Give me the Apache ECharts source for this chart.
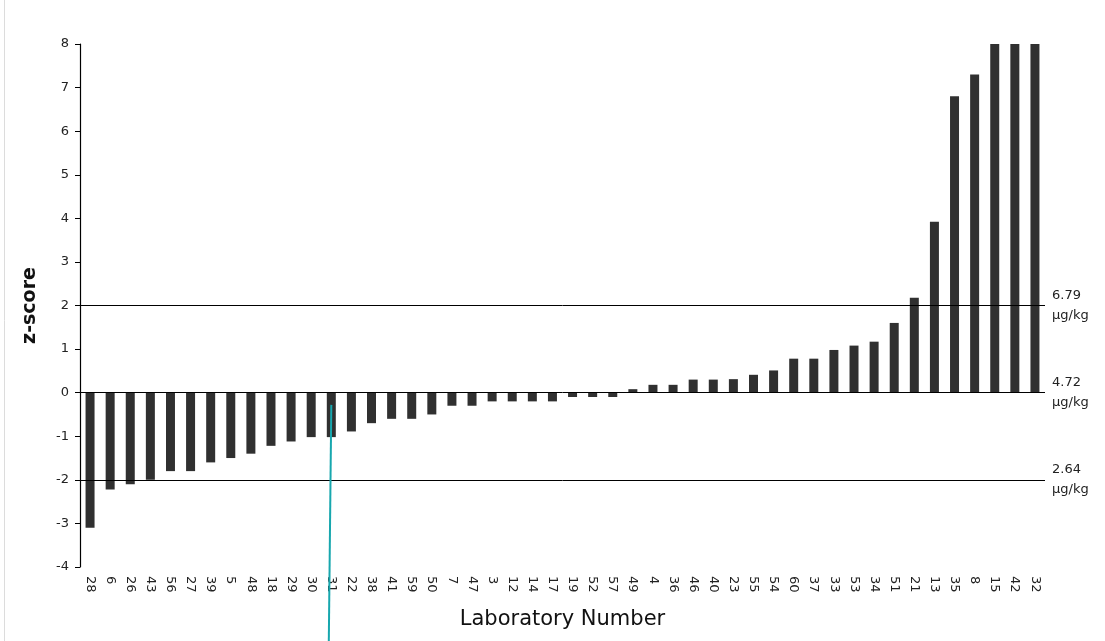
<!DOCTYPE html>
<html>
<head>
<meta charset="utf-8">
<script src="https://cdn.jsdelivr.net/npm/echarts@6/dist/echarts.min.js"></script>
<style>
  html, body { margin: 0; padding: 0; background: #fff; }
  #chart { width: 1105px; height: 641px; }
</style>
</head>
<body>
<div id="chart"></div>
<script>
// Laboratories, ordered by z-score
const labNumbers = ['28','6','26','43','56','27','39','5','48','18','29','30','31','22','38','41','59','50','7','47',
  '3','12','14','17','19','52','57','49','4','36','46','40','23','55','54','60','37','33','53','34',
  '51','21','13','35','8','15','42','32'];

// z-score per laboratory
const zScores = [-3.1,-2.22,-2.1,-2.0,-1.8,-1.8,-1.6,-1.5,-1.4,-1.22,
  -1.12,-1.02,-1.02,-0.89,-0.7,-0.6,-0.6,-0.5,-0.3,-0.3,
  -0.2,-0.2,-0.2,-0.2,-0.1,-0.1,-0.1,0.08,0.18,0.18,
  0.3,0.3,0.31,0.41,0.51,0.78,0.78,0.98,1.08,1.17,
  1.6,2.18,3.92,6.8,7.3,8,8,8];

// Reference z levels and their concentrations
const refZ = [2, 0, -2];
const refConc = ['6.79', '4.72', '2.64'];
const refUnit = 'µg/kg';

// Pointer marking one laboratory
const pointerLab = '31';
const pointerTopZ = -0.28;

const FONT = 'DejaVu Sans';

const chart = echarts.init(document.getElementById('chart'), null, { renderer: 'canvas' });

chart.setOption({
  animation: false,
  backgroundColor: '#fff',
  grid: { left: 80, right: 60, top: 44, bottom: 74, containLabel: false },
  xAxis: {
    type: 'category',
    data: labNumbers,
    name: 'Laboratory Number',
    nameLocation: 'middle',
    nameGap: 42,
    nameTextStyle: { fontFamily: FONT, fontSize: 21, color: '#111', letterSpacing: 1.2 },
    axisLine: { show: false },
    axisTick: { show: false },
    axisLabel: {
      interval: 0, rotate: -90, margin: 9,
      fontFamily: FONT, fontSize: 13, color: '#222', letterSpacing: 0.5
    },
    splitLine: { show: false }
  },
  yAxis: {
    type: 'value',
    min: -4, max: 8, interval: 1,
    name: 'z-score',
    nameLocation: 'middle',
    nameGap: 40,
    nameRotate: 90,
    nameTextStyle: { fontFamily: FONT, fontSize: 19, color: '#111', fontWeight: 'bold', letterSpacing: 1 },
    axisLine: { show: true, lineStyle: { color: '#000', width: 1.2 } },
    axisTick: { show: true, length: 5, lineStyle: { color: '#000' } },
    axisLabel: { margin: 11, fontFamily: FONT, fontSize: 13, color: '#222' },
    splitLine: { show: false }
  },
  series: [{
    type: 'bar',
    data: zScores,
    barWidth: 9,
    itemStyle: { color: '#303030' },
    markLine: {
      silent: true,
      symbol: ['none', 'none'],
      lineStyle: { color: '#000', width: 1, type: 'solid' },
      label: {
        position: 'end',
        distance: 7,
        fontFamily: FONT, fontSize: 13, color: '#222',
        lineHeight: 20,
        align: 'left',
        formatter: p => refConc[p.dataIndex] + '\n' + refUnit
      },
      data: refZ.map(v => ({ yAxis: v }))
    }
  }]
});

// Pointer line and page border, positioned from data coordinates
const pointerStart = chart.convertToPixel({ xAxisIndex: 0, yAxisIndex: 0 }, [pointerLab, pointerTopZ]);
chart.setOption({
  graphic: [
    {
      type: 'line',
      shape: { x1: pointerStart[0], y1: pointerStart[1], x2: pointerStart[0] - 2.5, y2: 641 },
      style: { stroke: '#17a7ae', lineWidth: 2 },
      z: 100
    },
    {
      type: 'line',
      shape: { x1: 4.5, y1: 0, x2: 4.5, y2: 641 },
      style: { stroke: '#dcdcdc', lineWidth: 1 }
    }
  ]
});
</script>
</body>
</html>
